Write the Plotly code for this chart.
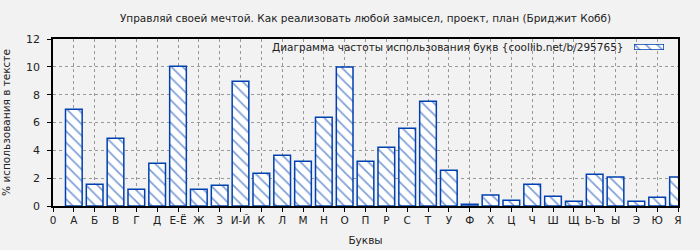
import plotly.graph_objects as go

letters = ["А", "Б", "В", "Г", "Д", "Е-Ё", "Ж", "З", "И-Й", "К", "Л", "М", "Н", "О", "П",
           "Р", "С", "Т", "У", "Ф", "Х", "Ц", "Ч", "Ш", "Щ", "Ь-Ъ", "Ы", "Э", "Ю", "Я"]
values = [6.96, 1.56, 4.87, 1.2, 3.07, 10.05, 1.2, 1.49, 8.97, 2.35, 3.65, 3.21, 6.38, 9.98, 3.21,
          4.22, 5.59, 7.53, 2.57, 0.12, 0.79, 0.41, 1.56, 0.70, 0.34, 2.28, 2.09, 0.34, 0.63, 2.09]
tick_labels = ["0"] + letters
positions = list(range(1, len(letters) + 1))

title = "Управляй своей мечтой. Как реализовать любой замысел, проект, план (Бриджит Кобб)"
legend_text = "Диаграмма частоты использования букв {coollib.net/b/295765}"

BLUE = "#0040b0"
BG = "#f2f2f2"
pattern = dict(shape="\\", fgcolor=BLUE, bgcolor="white", size=8, solidity=0.22)

fig = go.Figure()
fig.add_trace(go.Bar(
    x=positions, y=values, width=0.8,
    marker=dict(color="white", line=dict(color=BLUE, width=1.5), pattern=pattern),
    showlegend=False, hoverinfo="skip",
))
# legend swatch drawn in a tiny inset axis
fig.add_trace(go.Bar(
    x=[0], y=[1], width=1, xaxis="x2", yaxis="y2",
    marker=dict(color="white", line=dict(color=BLUE, width=1.5), pattern=pattern),
    showlegend=False, hoverinfo="skip",
))

W, H = 700, 250
L, R, T, B = 53, 22, 39, 44
pw, ph = W - L - R, H - T - B

def px_x(x):
    return (x - L) / pw

def px_y(y):
    return (H - B - y) / ph

font = "DejaVu Sans, sans-serif"
FS = 10.5
fig.update_layout(
    width=W, height=H,
    margin=dict(l=L, r=R, t=T, b=B, autoexpand=False),
    paper_bgcolor=BG, plot_bgcolor=BG,
    font=dict(family=font, size=FS, color="#222"),
    title=dict(text=title, x=(L + pw / 2) / W, xanchor="center", y=1 - 18 / H, yanchor="middle",
               font=dict(size=FS, color="#222")),
    bargap=0.2,
    xaxis=dict(
        range=[0, 30], tickmode="array", tickvals=list(range(0, 31)), ticktext=tick_labels,
        showgrid=True, gridcolor="#999", griddash="dot", gridwidth=1,
        showline=True, linecolor="black", linewidth=1.5, mirror=True,
        ticks="outside", ticklen=4, tickcolor="black",
        title=dict(text="Буквы", standoff=11, font=dict(size=FS)),
        zeroline=False, tickangle=0, automargin=False, tickfont=dict(size=FS),
    ),
    yaxis=dict(
        range=[0, 12], tickmode="array", tickvals=[0, 2, 4, 6, 8, 10, 12],
        showgrid=True, gridcolor="#999", griddash="dot", gridwidth=1,
        showline=True, linecolor="black", linewidth=1.5, mirror=True,
        ticks="outside", ticklen=4, tickcolor="black",
        title=dict(text="% использования в тексте", standoff=16, font=dict(size=FS)),
        zeroline=False, automargin=False, tickfont=dict(size=11), ticklabelstandoff=5,
    ),
    xaxis2=dict(domain=[px_x(634), px_x(664)], range=[-0.5, 0.5], visible=False, anchor="y2"),
    yaxis2=dict(domain=[px_y(50), px_y(44)], range=[0, 1], visible=False, anchor="x2"),
    annotations=[dict(
        text=legend_text, xref="paper", yref="paper", x=px_x(626), y=px_y(47),
        xanchor="right", yanchor="middle", showarrow=False, font=dict(size=FS, color="#222"),
    )],
)

fig.write_html("out.html")
